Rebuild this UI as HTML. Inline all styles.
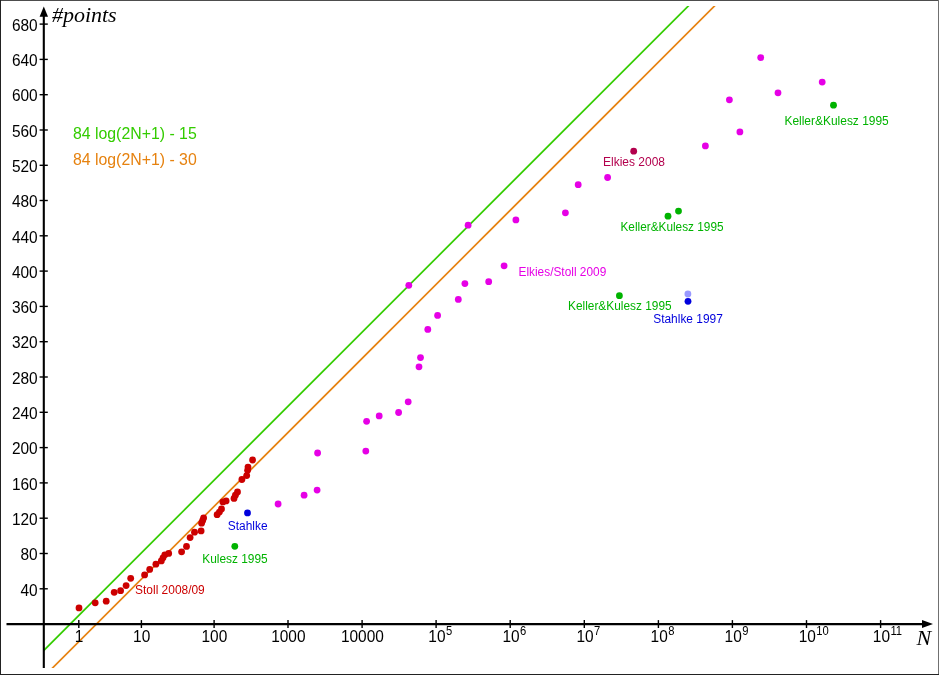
<!DOCTYPE html>
<html><head><meta charset="utf-8"><title>chart</title>
<style>
html,body{margin:0;padding:0;background:#fff;}
body{width:939px;height:675px;overflow:hidden;}
svg{display:block;will-change:transform;}
.t{font-family:"Liberation Sans",sans-serif;font-size:15px;fill:#000;}
.s{font-family:"Liberation Sans",sans-serif;font-size:10.5px;fill:#000;}
.l{font-family:"Liberation Sans",sans-serif;font-size:12px;}
.g{font-family:"Liberation Sans",sans-serif;font-size:16px;}
.i{font-family:"Liberation Serif",serif;font-style:italic;font-size:22px;fill:#000;}
</style></head><body>
<svg width="939" height="675" viewBox="0 0 939 675">
<rect x="0" y="0" width="939" height="675" fill="#fff"/>
<rect x="0" y="0" width="939" height="1" fill="#4d4d4d"/>
<rect x="938" y="0" width="1" height="675" fill="#707070"/>
<rect x="0" y="0" width="1" height="675" fill="#222"/>
<rect x="0" y="674" width="939" height="1" fill="#222"/>
<clipPath id="c"><rect x="43" y="6" width="890" height="662"/></clipPath>
<g clip-path="url(#c)"><line x1="34" y1="660.3" x2="698.3" y2="-4" stroke="#33cc00" stroke-width="1.7"/>
<line x1="42.5" y1="678" x2="724.5" y2="-4" stroke="#e6820f" stroke-width="1.7"/></g>
<line x1="6.5" y1="624.1" x2="924" y2="624.1" stroke="#000" stroke-width="2.3"/>
<polygon points="933,624.1 922,620.1 922,628.1" fill="#000"/>
<line x1="43.8" y1="668" x2="43.8" y2="15" stroke="#000" stroke-width="2.1"/>
<polygon points="43.8,6.5 39.6,16.8 48,16.8" fill="#000"/>
<line x1="39.6" y1="588.8" x2="47.8" y2="588.8" stroke="#000" stroke-width="1.4"/>
<text class="t" transform="translate(37.7,595.5) scale(1.03,1.09)" text-anchor="end">40</text>
<line x1="39.6" y1="553.5" x2="47.8" y2="553.5" stroke="#000" stroke-width="1.4"/>
<text class="t" transform="translate(37.7,560.2) scale(1.03,1.09)" text-anchor="end">80</text>
<line x1="39.6" y1="518.2" x2="47.8" y2="518.2" stroke="#000" stroke-width="1.4"/>
<text class="t" transform="translate(37.7,524.9) scale(1.03,1.09)" text-anchor="end">120</text>
<line x1="39.6" y1="482.9" x2="47.8" y2="482.9" stroke="#000" stroke-width="1.4"/>
<text class="t" transform="translate(37.7,489.6) scale(1.03,1.09)" text-anchor="end">160</text>
<line x1="39.6" y1="447.6" x2="47.8" y2="447.6" stroke="#000" stroke-width="1.4"/>
<text class="t" transform="translate(37.7,454.3) scale(1.03,1.09)" text-anchor="end">200</text>
<line x1="39.6" y1="412.3" x2="47.8" y2="412.3" stroke="#000" stroke-width="1.4"/>
<text class="t" transform="translate(37.7,419.0) scale(1.03,1.09)" text-anchor="end">240</text>
<line x1="39.6" y1="377.0" x2="47.8" y2="377.0" stroke="#000" stroke-width="1.4"/>
<text class="t" transform="translate(37.7,383.7) scale(1.03,1.09)" text-anchor="end">280</text>
<line x1="39.6" y1="341.7" x2="47.8" y2="341.7" stroke="#000" stroke-width="1.4"/>
<text class="t" transform="translate(37.7,348.4) scale(1.03,1.09)" text-anchor="end">320</text>
<line x1="39.6" y1="306.4" x2="47.8" y2="306.4" stroke="#000" stroke-width="1.4"/>
<text class="t" transform="translate(37.7,313.1) scale(1.03,1.09)" text-anchor="end">360</text>
<line x1="39.6" y1="271.1" x2="47.8" y2="271.1" stroke="#000" stroke-width="1.4"/>
<text class="t" transform="translate(37.7,277.8) scale(1.03,1.09)" text-anchor="end">400</text>
<line x1="39.6" y1="235.8" x2="47.8" y2="235.8" stroke="#000" stroke-width="1.4"/>
<text class="t" transform="translate(37.7,242.5) scale(1.03,1.09)" text-anchor="end">440</text>
<line x1="39.6" y1="200.5" x2="47.8" y2="200.5" stroke="#000" stroke-width="1.4"/>
<text class="t" transform="translate(37.7,207.2) scale(1.03,1.09)" text-anchor="end">480</text>
<line x1="39.6" y1="165.3" x2="47.8" y2="165.3" stroke="#000" stroke-width="1.4"/>
<text class="t" transform="translate(37.7,172.0) scale(1.03,1.09)" text-anchor="end">520</text>
<line x1="39.6" y1="130.0" x2="47.8" y2="130.0" stroke="#000" stroke-width="1.4"/>
<text class="t" transform="translate(37.7,136.7) scale(1.03,1.09)" text-anchor="end">560</text>
<line x1="39.6" y1="94.7" x2="47.8" y2="94.7" stroke="#000" stroke-width="1.4"/>
<text class="t" transform="translate(37.7,101.4) scale(1.03,1.09)" text-anchor="end">600</text>
<line x1="39.6" y1="59.4" x2="47.8" y2="59.4" stroke="#000" stroke-width="1.4"/>
<text class="t" transform="translate(37.7,66.1) scale(1.03,1.09)" text-anchor="end">640</text>
<line x1="39.6" y1="24.1" x2="47.8" y2="24.1" stroke="#000" stroke-width="1.4"/>
<text class="t" transform="translate(37.7,30.8) scale(1.03,1.09)" text-anchor="end">680</text>
<line x1="78.8" y1="620.1" x2="78.8" y2="628" stroke="#000" stroke-width="1.4"/>
<text class="t" transform="translate(79.1,641.6) scale(1.03,1.09)" text-anchor="middle">1</text>
<line x1="141.4" y1="620.1" x2="141.4" y2="628" stroke="#000" stroke-width="1.4"/>
<text class="t" transform="translate(141.7,641.6) scale(1.03,1.09)" text-anchor="middle">10</text>
<line x1="214.1" y1="620.1" x2="214.1" y2="628" stroke="#000" stroke-width="1.4"/>
<text class="t" transform="translate(214.4,641.6) scale(1.03,1.09)" text-anchor="middle">100</text>
<line x1="288.0" y1="620.1" x2="288.0" y2="628" stroke="#000" stroke-width="1.4"/>
<text class="t" transform="translate(288.3,641.6) scale(1.03,1.09)" text-anchor="middle">1000</text>
<line x1="362.1" y1="620.1" x2="362.1" y2="628" stroke="#000" stroke-width="1.4"/>
<text class="t" transform="translate(362.4,641.6) scale(1.03,1.09)" text-anchor="middle">10000</text>
<line x1="436.1" y1="620.1" x2="436.1" y2="628" stroke="#000" stroke-width="1.4"/>
<text class="t" transform="translate(428.3,641.6) scale(1.03,1.09)">10</text>
<text class="s" transform="translate(445.9,634.6) scale(1.07,1.17)">5</text>
<line x1="510.2" y1="620.1" x2="510.2" y2="628" stroke="#000" stroke-width="1.4"/>
<text class="t" transform="translate(502.4,641.6) scale(1.03,1.09)">10</text>
<text class="s" transform="translate(520.0,634.6) scale(1.07,1.17)">6</text>
<line x1="584.3" y1="620.1" x2="584.3" y2="628" stroke="#000" stroke-width="1.4"/>
<text class="t" transform="translate(576.5,641.6) scale(1.03,1.09)">10</text>
<text class="s" transform="translate(594.1,634.6) scale(1.07,1.17)">7</text>
<line x1="658.4" y1="620.1" x2="658.4" y2="628" stroke="#000" stroke-width="1.4"/>
<text class="t" transform="translate(650.6,641.6) scale(1.03,1.09)">10</text>
<text class="s" transform="translate(668.2,634.6) scale(1.07,1.17)">8</text>
<line x1="732.4" y1="620.1" x2="732.4" y2="628" stroke="#000" stroke-width="1.4"/>
<text class="t" transform="translate(724.6,641.6) scale(1.03,1.09)">10</text>
<text class="s" transform="translate(742.2,634.6) scale(1.07,1.17)">9</text>
<line x1="806.5" y1="620.1" x2="806.5" y2="628" stroke="#000" stroke-width="1.4"/>
<text class="t" transform="translate(798.7,641.6) scale(1.03,1.09)">10</text>
<text class="s" transform="translate(816.3,634.6) scale(1.07,1.17)">10</text>
<line x1="880.6" y1="620.1" x2="880.6" y2="628" stroke="#000" stroke-width="1.4"/>
<text class="t" transform="translate(872.8,641.6) scale(1.03,1.09)">10</text>
<text class="s" transform="translate(890.4,634.6) scale(1.07,1.17)">11</text>
<text class="i" x="51.9" y="21.8">#points</text>
<text class="i" x="916.5" y="644.8">N</text>
<text class="g" transform="translate(72.9,139.4) scale(0.992,1)" fill="#33cc00">84 log(2N+1) - 15</text>
<text class="g" transform="translate(72.9,165.2) scale(0.992,1)" fill="#e6820f">84 log(2N+1) - 30</text>
<circle cx="79.0" cy="607.9" r="3.4" fill="#cc0000"/>
<circle cx="95.2" cy="602.8" r="3.4" fill="#cc0000"/>
<circle cx="106.2" cy="601.2" r="3.4" fill="#cc0000"/>
<circle cx="114.2" cy="592.3" r="3.4" fill="#cc0000"/>
<circle cx="120.6" cy="590.7" r="3.4" fill="#cc0000"/>
<circle cx="126.1" cy="585.6" r="3.4" fill="#cc0000"/>
<circle cx="130.7" cy="578.3" r="3.4" fill="#cc0000"/>
<circle cx="144.6" cy="574.9" r="3.4" fill="#cc0000"/>
<circle cx="149.7" cy="569.4" r="3.4" fill="#cc0000"/>
<circle cx="155.9" cy="564.2" r="3.4" fill="#cc0000"/>
<circle cx="161.3" cy="560.9" r="3.4" fill="#cc0000"/>
<circle cx="163.0" cy="557.8" r="3.4" fill="#cc0000"/>
<circle cx="164.8" cy="554.8" r="3.4" fill="#cc0000"/>
<circle cx="168.7" cy="553.4" r="3.4" fill="#cc0000"/>
<circle cx="181.6" cy="551.8" r="3.4" fill="#cc0000"/>
<circle cx="186.5" cy="546.4" r="3.4" fill="#cc0000"/>
<circle cx="190.1" cy="537.6" r="3.4" fill="#cc0000"/>
<circle cx="194.5" cy="532.2" r="3.4" fill="#cc0000"/>
<circle cx="201.1" cy="530.9" r="3.4" fill="#cc0000"/>
<circle cx="201.6" cy="523.2" r="3.4" fill="#cc0000"/>
<circle cx="202.7" cy="520.4" r="3.4" fill="#cc0000"/>
<circle cx="203.6" cy="517.9" r="3.4" fill="#cc0000"/>
<circle cx="217.1" cy="514.7" r="3.4" fill="#cc0000"/>
<circle cx="219.4" cy="512.1" r="3.4" fill="#cc0000"/>
<circle cx="221.5" cy="509.0" r="3.4" fill="#cc0000"/>
<circle cx="222.9" cy="501.9" r="3.4" fill="#cc0000"/>
<circle cx="226.1" cy="500.9" r="3.4" fill="#cc0000"/>
<circle cx="234.0" cy="498.4" r="3.4" fill="#cc0000"/>
<circle cx="235.4" cy="495.2" r="3.4" fill="#cc0000"/>
<circle cx="237.5" cy="492.0" r="3.4" fill="#cc0000"/>
<circle cx="241.9" cy="479.5" r="3.4" fill="#cc0000"/>
<circle cx="246.7" cy="475.6" r="3.4" fill="#cc0000"/>
<circle cx="247.6" cy="470.3" r="3.4" fill="#cc0000"/>
<circle cx="248.0" cy="467.1" r="3.4" fill="#cc0000"/>
<circle cx="252.6" cy="460.0" r="3.4" fill="#cc0000"/>
<circle cx="278.1" cy="504.0" r="3.4" fill="#e600e6"/>
<circle cx="304.1" cy="495.2" r="3.4" fill="#e600e6"/>
<circle cx="317.1" cy="490.1" r="3.4" fill="#e600e6"/>
<circle cx="317.6" cy="453.0" r="3.4" fill="#e600e6"/>
<circle cx="365.8" cy="451.1" r="3.4" fill="#e600e6"/>
<circle cx="366.6" cy="421.3" r="3.4" fill="#e600e6"/>
<circle cx="379.2" cy="415.9" r="3.4" fill="#e600e6"/>
<circle cx="398.6" cy="412.5" r="3.4" fill="#e600e6"/>
<circle cx="408.2" cy="401.8" r="3.4" fill="#e600e6"/>
<circle cx="408.8" cy="285.3" r="3.4" fill="#e600e6"/>
<circle cx="419.0" cy="366.8" r="3.4" fill="#e600e6"/>
<circle cx="420.5" cy="357.6" r="3.4" fill="#e600e6"/>
<circle cx="427.8" cy="329.4" r="3.4" fill="#e600e6"/>
<circle cx="437.6" cy="315.4" r="3.4" fill="#e600e6"/>
<circle cx="458.3" cy="299.4" r="3.4" fill="#e600e6"/>
<circle cx="464.9" cy="283.6" r="3.4" fill="#e600e6"/>
<circle cx="488.7" cy="281.7" r="3.4" fill="#e600e6"/>
<circle cx="504.1" cy="265.8" r="3.4" fill="#e600e6"/>
<circle cx="468.1" cy="225.2" r="3.4" fill="#e600e6"/>
<circle cx="515.9" cy="219.9" r="3.4" fill="#e600e6"/>
<circle cx="565.4" cy="212.8" r="3.4" fill="#e600e6"/>
<circle cx="578.2" cy="184.7" r="3.4" fill="#e600e6"/>
<circle cx="607.6" cy="177.5" r="3.4" fill="#e600e6"/>
<circle cx="705.4" cy="145.9" r="3.4" fill="#e600e6"/>
<circle cx="739.9" cy="131.9" r="3.4" fill="#e600e6"/>
<circle cx="729.4" cy="99.8" r="3.4" fill="#e600e6"/>
<circle cx="760.7" cy="57.6" r="3.4" fill="#e600e6"/>
<circle cx="778.0" cy="92.8" r="3.4" fill="#e600e6"/>
<circle cx="822.2" cy="82.1" r="3.4" fill="#e600e6"/>
<circle cx="234.8" cy="546.3" r="3.4" fill="#00b300"/>
<circle cx="668.0" cy="216.2" r="3.4" fill="#00b300"/>
<circle cx="678.5" cy="211.1" r="3.4" fill="#00b300"/>
<circle cx="833.5" cy="105.2" r="3.4" fill="#00b300"/>
<circle cx="619.4" cy="295.7" r="3.4" fill="#00b300"/>
<circle cx="687.9" cy="294.0" r="3.4" fill="#9999ff"/>
<circle cx="247.5" cy="512.9" r="3.4" fill="#0000dd"/>
<circle cx="688.0" cy="301.3" r="3.4" fill="#0000dd"/>
<circle cx="633.7" cy="151.2" r="3.4" fill="#b3004d"/>
<text class="l" transform="translate(135.1,593.9) scale(0.995,1.04)" fill="#cc0000">Stoll 2008/09</text>
<text class="l" transform="translate(227.8,530.2) scale(0.995,1.04)" fill="#0000dd">Stahlke</text>
<text class="l" transform="translate(202.2,562.8) scale(0.993,1.04)" fill="#00b300">Kulesz 1995</text>
<text class="l" transform="translate(518.5,275.5) scale(0.99,1.04)" fill="#e600e6">Elkies/Stoll 2009</text>
<text class="l" transform="translate(603.0,166.1) scale(1.0,1.04)" fill="#b3004d">Elkies 2008</text>
<text class="l" transform="translate(620.5,231.2) scale(0.985,1.04)" fill="#00b300">Keller&amp;Kulesz 1995</text>
<text class="l" transform="translate(784.4,125.2) scale(0.997,1.04)" fill="#00b300">Keller&amp;Kulesz 1995</text>
<text class="l" transform="translate(568.0,310.3) scale(0.99,1.04)" fill="#00b300">Keller&amp;Kulesz 1995</text>
<text class="l" transform="translate(653.2,323.1) scale(0.995,1.04)" fill="#0000dd">Stahlke 1997</text>
</svg>
</body></html>
